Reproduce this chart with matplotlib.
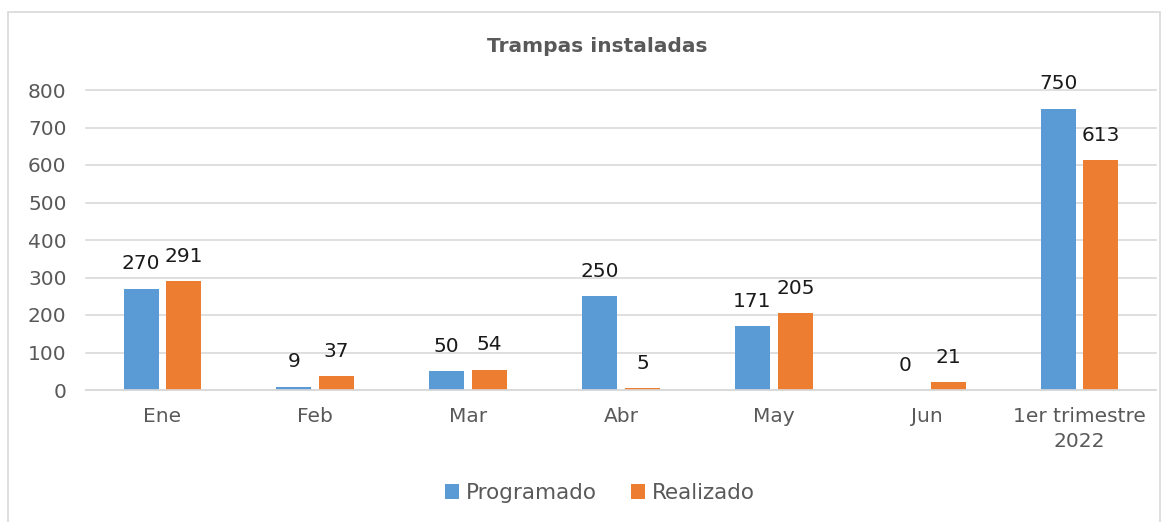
import numpy as np
import matplotlib.pyplot as plt
from matplotlib.patches import Rectangle

meses = ["Ene", "Feb", "Mar", "Abr", "May", "Jun", "1er trimestre\n2022"]
programado = [270, 9, 50, 250, 171, 0, 750]
realizado = [291, 37, 54, 5, 205, 21, 613]

azul = "#5b9bd5"
naranja = "#ed7d31"
gris = "#595959"

plt.rcParams["font.family"] = ["DejaVu Sans"]

fig = plt.figure(figsize=(11.72, 5.22), dpi=100)
fig.patches.append(Rectangle((8 / 1172, -0.01), 1152 / 1172, 1 - 12 / 522 + 0.01,
                             transform=fig.transFigure, fill=False,
                             edgecolor="#d9d9d9", linewidth=1.2))
ax = fig.add_axes([86 / 1172, 1 - 390 / 522, 1070 / 1172, 300 / 522])

x = np.arange(len(meses))
w = 0.229
b1 = ax.bar(x - 0.14, programado, w, color=azul, label="Programado")
b2 = ax.bar(x + 0.14, realizado, w, color=naranja, label="Realizado")
ax.bar_label(b1, padding=11, fontsize=14.5, color="#1a1a1a")
ax.bar_label(b2, padding=11, fontsize=14.5, color="#1a1a1a")

ax.set_xlim(-0.5, len(meses) - 0.5)
ax.set_ylim(0, 800)
ax.set_yticks(range(0, 801, 100))
ax.set_xticks(x)
ax.set_xticklabels(meses, linespacing=1.45)
ax.tick_params(length=0, labelsize=14.5, labelcolor=gris)
ax.tick_params(axis="x", pad=12)
ax.tick_params(axis="y", pad=14)
ax.grid(axis="y", color="#d9d9d9", linewidth=1.2)
for gl in ax.get_ygridlines():
    gl.set_clip_on(False)
ax.set_axisbelow(True)
for s in ["top", "right", "left"]:
    ax.spines[s].set_visible(False)
ax.spines["bottom"].set_color("#d9d9d9")
ax.spines["bottom"].set_linewidth(1.2)

fig.text(597 / 1172, 1 - 46 / 522, "Trampas instaladas", ha="center", va="center",
         fontsize=14.5, fontweight="bold", color=gris)
fig.legend(loc="center", bbox_to_anchor=(600 / 1172, 1 - 493 / 522), ncol=2,
           frameon=False, fontsize=15.5, labelcolor=gris, handlelength=0.65,
           handleheight=0.65, handletextpad=0.3, columnspacing=1.6)

fig.savefig("out.png", dpi=100)
